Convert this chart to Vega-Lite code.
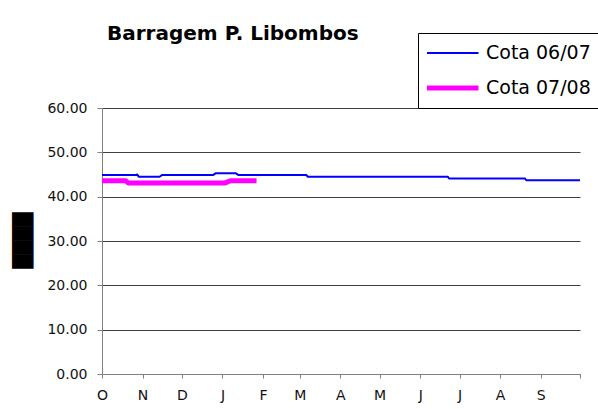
{
  "$schema": "https://vega.github.io/schema/vega-lite/v6.json",
  "autosize": {"type": "none"},
  "width": 478,
  "height": 266,
  "padding": {"left": 102, "top": 108, "right": 18, "bottom": 35},
  "background": "white",
  "title": {
    "text": "Barragem P. Libombos",
    "anchor": "start",
    "dx": 94,
    "font": "DejaVu Sans",
    "fontSize": 20,
    "fontWeight": "bold",
    "color": "black",
    "baseline": "alphabetic",
    "offset": -27
  },
  "data": {
    "values": [
      {"dia": 0, "cota": 44.9, "serie": "Cota 06/07"},
      {"dia": 26, "cota": 44.9, "serie": "Cota 06/07"},
      {"dia": 27, "cota": 45.0, "serie": "Cota 06/07"},
      {"dia": 28, "cota": 44.5, "serie": "Cota 06/07"},
      {"dia": 44, "cota": 44.5, "serie": "Cota 06/07"},
      {"dia": 46, "cota": 44.9, "serie": "Cota 06/07"},
      {"dia": 85, "cota": 44.9, "serie": "Cota 06/07"},
      {"dia": 87, "cota": 45.3, "serie": "Cota 06/07"},
      {"dia": 102, "cota": 45.3, "serie": "Cota 06/07"},
      {"dia": 104, "cota": 44.9, "serie": "Cota 06/07"},
      {"dia": 156, "cota": 44.9, "serie": "Cota 06/07"},
      {"dia": 157, "cota": 44.5, "serie": "Cota 06/07"},
      {"dia": 264, "cota": 44.5, "serie": "Cota 06/07"},
      {"dia": 265, "cota": 44.1, "serie": "Cota 06/07"},
      {"dia": 323, "cota": 44.1, "serie": "Cota 06/07"},
      {"dia": 324, "cota": 43.7, "serie": "Cota 06/07"},
      {"dia": 365, "cota": 43.7, "serie": "Cota 06/07"},
      {"dia": 0, "cota": 43.6, "serie": "Cota 07/08"},
      {"dia": 18, "cota": 43.6, "serie": "Cota 07/08"},
      {"dia": 20, "cota": 43.1, "serie": "Cota 07/08"},
      {"dia": 94, "cota": 43.1, "serie": "Cota 07/08"},
      {"dia": 98, "cota": 43.6, "serie": "Cota 07/08"},
      {"dia": 118, "cota": 43.6, "serie": "Cota 07/08"}
    ]
  },
  "mark": {"type": "line", "strokeCap": "butt", "strokeJoin": "round"},
  "encoding": {
    "x": {
      "field": "dia",
      "type": "quantitative",
      "scale": {"domain": [0, 365], "nice": false, "zero": false},
      "axis": {
        "values": [0, 31, 61, 92, 123, 151, 182, 212, 243, 273, 304, 335, 365],
        "labelExpr": "['O','N','D','J','F','M','A','M','J','J','A','S',''][indexof([0,31,61,92,123,151,182,212,243,273,304,335,365], datum.value)]",
        "title": null,
        "grid": false,
        "domainColor": "#808080",
        "tickColor": "#808080",
        "tickSize": 4,
        "labelPadding": 10,
        "labelFlush": false,
        "labelOverlap": false
      }
    },
    "y": {
      "field": "cota",
      "type": "quantitative",
      "scale": {"domain": [0, 60], "nice": false},
      "axis": {
        "values": [0, 10, 20, 30, 40, 50, 60],
        "format": ".2f",
        "title": "████",
        "titleFont": "DejaVu Sans",
        "titleFontSize": 18.16,
        "titleFontWeight": "normal",
        "titleColor": "black",
        "titleAngle": 270,
        "titleAlign": "center",
        "titleBaseline": "middle",
        "titleX": -79,
        "titleY": 132,
        "grid": true,
        "gridColor": "#404040",
        "gridWidth": 1,
        "domainColor": "#808080",
        "tickColor": "#808080",
        "tickSize": 5,
        "labelPadding": 10,
        "labelFlush": false
      }
    },
    "color": {
      "field": "serie",
      "type": "nominal",
      "scale": {"domain": ["Cota 06/07", "Cota 07/08"], "range": ["#0000FF", "#FF00FF"]},
      "legend": {"title": null}
    },
    "strokeWidth": {
      "field": "serie",
      "type": "nominal",
      "scale": {"domain": ["Cota 06/07", "Cota 07/08"], "range": [2, 5]},
      "legend": {"title": null}
    }
  },
  "config": {
    "view": {"stroke": null},
    "axis": {
      "labelFont": "DejaVu Sans",
      "labelFontSize": 14,
      "labelColor": "#111111"
    },
    "legend": {
      "orient": "none",
      "legendX": 316,
      "legendY": -75,
      "strokeColor": "black",
      "fillColor": "white",
      "padding": 9,
      "symbolType": "stroke",
      "symbolSize": 2704,
      "symbolOffset": -3,
      "clipHeight": 22,
      "rowPadding": 13,
      "labelOffset": 5,
      "labelFont": "DejaVu Sans",
      "labelFontSize": 19,
      "labelColor": "black",
      "labelLimit": 300
    }
  }
}
